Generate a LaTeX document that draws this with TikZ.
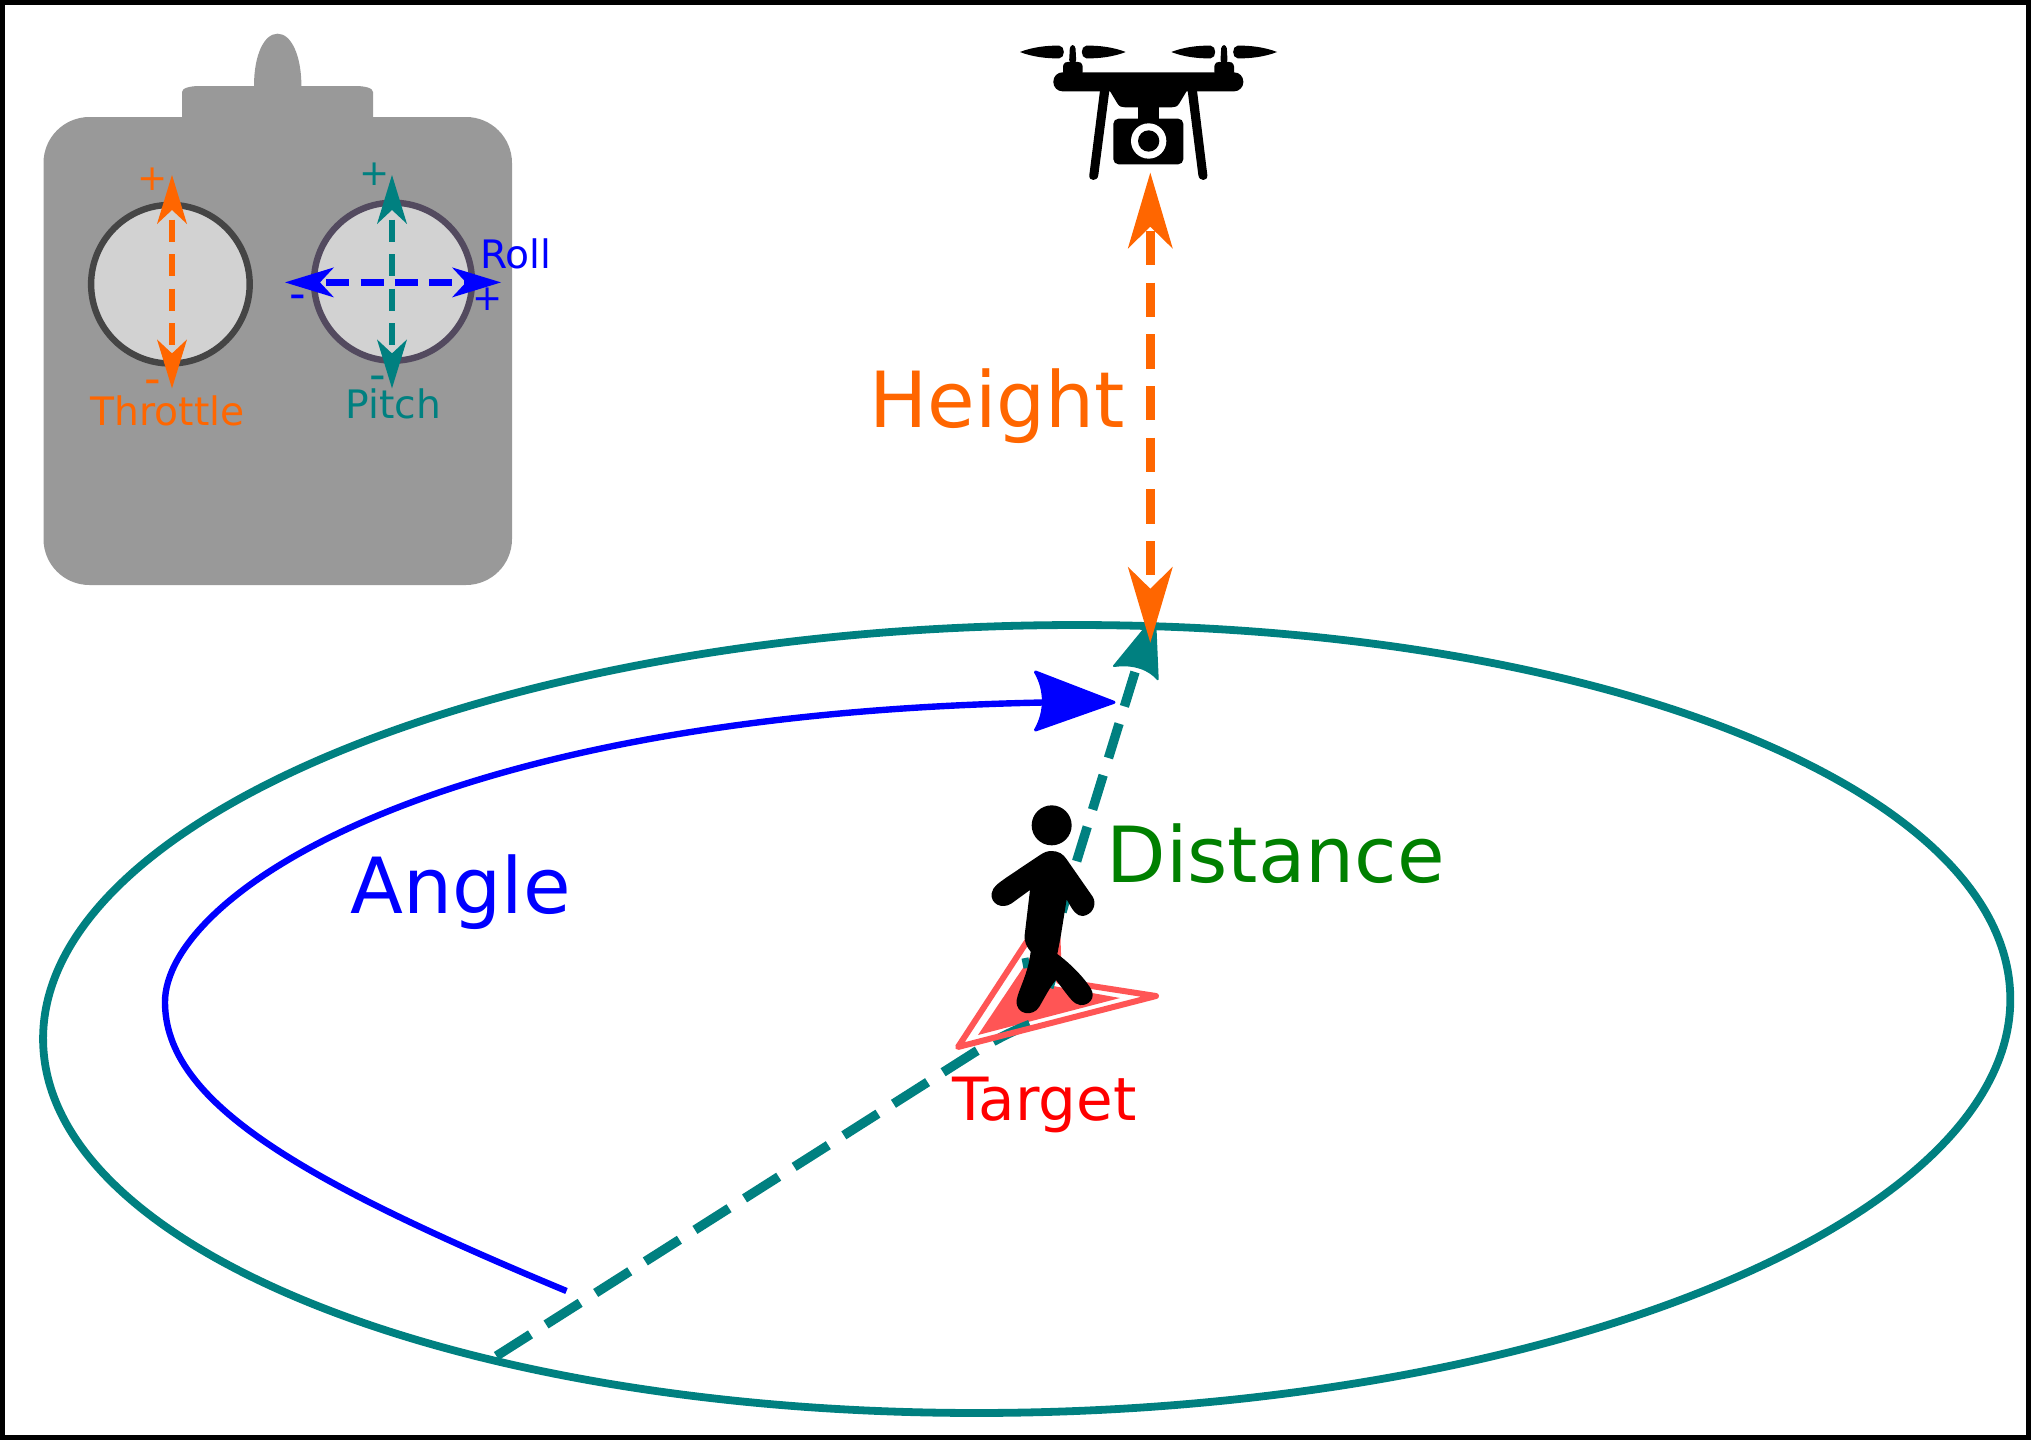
\documentclass[tikz,border=0pt]{standalone}
\usepackage{fontspec}
\setmainfont{DejaVu Sans}
\usetikzlibrary{arrows.meta}
\definecolor{cteal}{HTML}{008080}
\definecolor{corange}{HTML}{FF6600}
\definecolor{cblue}{HTML}{0000FF}
\definecolor{cgreen}{HTML}{008000}
\definecolor{cred}{HTML}{FF0000}
\definecolor{csalmon}{HTML}{FF5555}
\definecolor{cbody}{HTML}{999999}
\definecolor{cstick}{HTML}{D2D2D2}
\newcommand{\fsz}[1]{\fontsize{#1}{#1}\selectfont}
\tikzset{
  lbl/.style={inner sep=0pt,anchor=base west},
  sign/.style={inner sep=0pt,anchor=base},
  bigtext/.style={lbl,font=\fsz{38.7}},
  smalltext/.style={lbl,font=\fsz{19.6}},
  plussign/.style={sign,font=\fsz{18}},
  minussign/.style={sign,font=\fsz{23}},
  twinhead/.style={{Stealth[length=24.5pt,width=15pt,inset=7pt,line width=0pt]}-{Stealth[length=24.5pt,width=15pt,inset=7pt,line width=0pt]}},
  bighead/.style={{Stealth[length=38pt,width=22.5pt,inset=11pt,line width=0pt]}-{Stealth[length=38pt,width=22.5pt,inset=11pt,line width=0pt]}},
  gimbal/.style={line width=3.2pt,fill=cstick},
}
\begin{document}
\begin{tikzpicture}[x=0.5pt,y=-0.5pt]
\useasboundingbox (0,0) rectangle (2031,1440);
\fill[white] (0,0) rectangle (2031,1440);

% transmitter housing
\fill[cbody] (43.5,163) .. controls (43.5,137.6) and (64,117) .. (89.5,117) -- (182,117) -- (182,92)
  .. controls (182,88) and (190,86) .. (200,86) -- (254,86)
  .. controls (254,55) and (264,33.7) .. (277.7,33.7)
  .. controls (291,33.7) and (301.4,55) .. (301.4,86)
  -- (355,86) .. controls (365,86) and (373,88) .. (373,92) -- (373,117) -- (466,117)
  .. controls (491.4,117) and (512,137.6) .. (512,163) -- (512,539)
  .. controls (512,564.4) and (491.4,585) .. (466,585) -- (89.5,585)
  .. controls (64,585) and (43.5,564.4) .. (43.5,539) -- cycle;
\draw[gimbal,draw=black!73] (170.4,284.2) circle[radius=79.3];
\draw[gimbal,draw={rgb,255:red,83;green,74;blue,95}] (393,281.7) circle[radius=79];

% stick axes
\coordinate (thrUp) at (172,175);
\coordinate (thrDown) at (172,388.4);
\coordinate (pitUp) at (392,175);
\coordinate (pitDown) at (392,388.4);
\coordinate (rolLeft) at (285,282.4);
\coordinate (rolRight) at (501,282.4);
\draw[twinhead,corange,line width=3.2pt,dash pattern=on 11pt off 6.25pt,dash phase=12.5pt] (thrUp) -- (thrDown);
\draw[twinhead,cteal,line width=3.2pt,dash pattern=on 11pt off 6.25pt,dash phase=12.5pt] (pitUp) -- (pitDown);
\draw[twinhead,cblue,line width=3.2pt,dash pattern=on 11.5pt off 5.65pt,dash phase=14pt] (rolLeft) -- (rolRight);

% stick labels
\node[plussign,text=corange] (thrPlus) at (153,190) {+};
\node[minussign,text=corange] (thrMinus) at (153,394.4) {-};
\node[smalltext,text=corange] (thr) at (90.5,425) {Throttle};
\node[plussign,text=cteal] (pitPlus) at (375,185.3) {+};
\node[minussign,text=cteal] (pitMinus) at (377.5,390.4) {-};
\node[smalltext,text=cteal] (pit) at (345,418) {Pitch};
\node[plussign,text=cblue] (rolPlus) at (488,310.3) {+};
\node[minussign,text=cblue] (rolMinus) at (298,309.8) {-};
\node[smalltext,text=cblue] (rol) at (480,268.7) {Roll};

% ground orbit
\draw[cteal,line width=3.9pt] (1026.7,1019) ellipse[x radius=983.9,y radius=393.4,rotate=1.367];

% orbit direction
\coordinate (angStart) at (566.5,1291);
\coordinate (angEnd) at (1043,702.5);
\draw[cblue,line width=3.2pt] (angStart) .. controls (300,1180) and (165,1102) .. (165,1002)
  .. controls (165,900) and (420,715) .. (angEnd);
\fill[cblue,draw=cblue,line width=1.5pt,line join=round] (1114,702.3) -- (1035.5,672)
  .. controls (1046,690) and (1046,712) .. (1035.5,730) -- cycle;

% marker interior
\fill[csalmon] (978,1035) -- (1033,953) -- (1053,986) -- (1120,998) -- cycle;

% line of sight towards the orbit point
\coordinate (losLow) at (496.4,1356);
\coordinate (losMid) at (1031,1024);
\coordinate (losHead) at (1135,672);
\coordinate (losBend) at (1062,912);
\draw[cteal,line width=4.7pt,dash pattern=on 20.2pt off 9.2pt] (losLow) -- (975,1052) .. controls (1000,1037) and (1015,1030) .. (losMid);
\draw[cteal,line width=4.7pt,dash pattern=on 18pt off 9pt] (losHead) -- (1077,860) -- (losBend);
\draw[cteal,line width=3.5pt] (1055,972) -- (1050,988);
\draw[cteal,line width=3.5pt] (1025,958) -- (1027,968);
\fill[cteal,draw=cteal,line width=1pt,line join=round] (1155,616) -- (1157.7,679.3)
  .. controls (1150,670) and (1135,663) .. (1114,666) -- cycle;

% target marker outline
\draw[csalmon,line width=3pt,line join=round] (958,1047) -- (1056,897) -- (1059,981) -- (1156,996) -- cycle;

% walking figure
\begin{scope}[shift={(900,780)},scale=1/3]
  \fill[black] (455,136) circle[radius=60];
  \fill[black] (455,213) .. controls (475,213) and (490,222) .. (500,238)
    -- (578,350) .. controls (592,372) and (578,405) .. (548,408)
    .. controls (530,408) and (520,395) .. (500,358)
    -- (482,470) -- (472,522) .. controls (510,550) and (550,590) .. (572,625)
    .. controls (590,655) and (565,678) .. (540,675)
    .. controls (520,672) and (510,655) .. (468,600)
    .. controls (450,620) and (430,660) .. (418,680)
    .. controls (400,712) and (345,705) .. (350,660)
    .. controls (355,630) and (385,580) .. (392,515)
    .. controls (380,500) and (372,485) .. (374,465)
    -- (390,330) -- (335,370)
    .. controls (305,390) and (270,370) .. (275,340)
    .. controls (278,320) and (295,310) .. (320,292)
    -- (420,225) .. controls (432,217) and (442,213) .. (455,213) -- cycle;
\end{scope}

% height of the aircraft
\coordinate (hgtTop) at (1150.3,172.7);
\coordinate (hgtBottom) at (1150.3,642.7);
\draw[bighead,corange,line width=4.5pt,dash pattern=on 17.15pt off 8.68pt,dash phase=23.65pt] (hgtTop) -- (hgtBottom);

% aircraft silhouette
\begin{scope}[shift={(1000,20)},scale=1/3]
  \foreach \dx in {0,454}{
    \begin{scope}[xshift=\dx*0.5pt]
      \fill[black] (60,96) .. controls (95,82) and (140,76) .. (178,77)
        .. controls (196,78) and (196,114) .. (178,115)
        .. controls (140,116) and (95,110) .. (60,96) -- cycle;
      \fill[black] (377,96) .. controls (342,82) and (297,76) .. (259,77)
        .. controls (241,78) and (241,114) .. (259,115)
        .. controls (297,116) and (342,110) .. (377,96) -- cycle;
      \fill[black,rounded corners=1.7pt] (207,130) -- (210,75) -- (226,75) -- (229,130) -- cycle;
      \fill[black,rounded corners=1.5pt] (189,165) -- (189,130) -- (203,125) -- (234,125) -- (248,130) -- (248,165) -- cycle;
    \end{scope}
  }
  \fill[black,rounded corners=4.6pt] (160,157) -- (730,157) -- (730,214) -- (160,214) -- cycle;
  \fill[black] (328,210) -- (352,250) .. controls (358,260) and (365,262) .. (375,262)
    -- (515,262) .. controls (525,262) and (532,260) .. (538,250) -- (562,210) -- cycle;
  \fill[black] (415,255) rectangle (477,300);
  \fill[black,rounded corners=2.6pt] (340,296) rectangle (550,433);
  \fill[white] (446,363) circle[radius=53];
  \fill[black] (446,363) circle[radius=32];
  \fill[black] (300,212) -- (268,465) .. controls (266,485) and (293,485) .. (295,465) -- (328,212) -- cycle;
  \fill[black] (591,212) -- (622,465) .. controls (624,485) and (597,485) .. (595,465) -- (563,212) -- cycle;
\end{scope}

% quantity labels
\node[bigtext,text=corange] (height) at (869,427) {Height};
\node[bigtext,text=cblue] (angle) at (350,913) {Angle};
\node[bigtext,text=cgreen] (distance) at (1106,882) {Distance};
\node[lbl,font=\fsz{29.8},text=cred] (target) at (952,1120) {Target};

% frame
\draw[black,line width=2.5pt] (2.5,2.5) rectangle (2028.5,1437.5);
\end{tikzpicture}
\end{document}
